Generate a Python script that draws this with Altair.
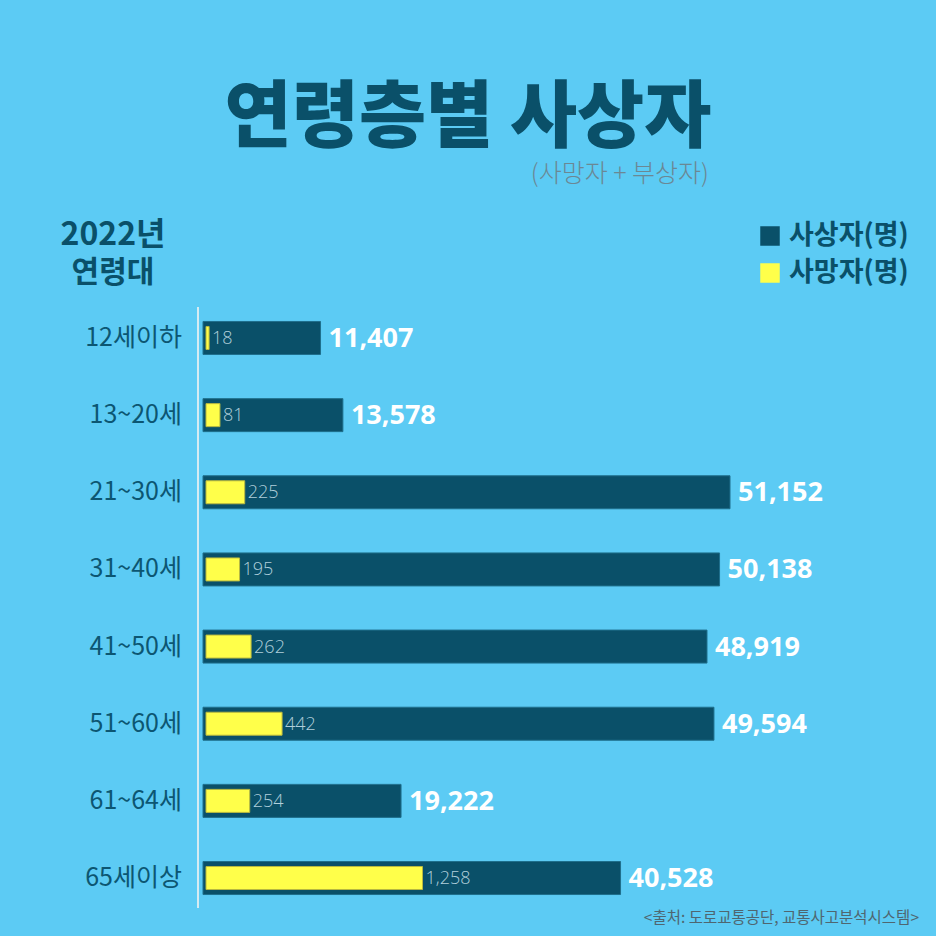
import altair as alt
import pandas as pd

categories = ["12세이하", "13~20세", "21~30세", "31~40세", "41~50세", "51~60세", "61~64세", "65세이상"]
casualties = [11407, 13578, 51152, 50138, 48919, 49594, 19222, 40528]
deaths = [18, 81, 225, 195, 262, 442, 254, 1258]

df = pd.DataFrame({"cat": categories, "cas": casualties, "death": deaths})

BG = "#5CCBF4"
DARK = "#0A5069"
YEL = "#FFFF4A"
KR = "Noto Sans CJK KR"
NUM = "Open Sans"

# page background colour (the page margin around the chart)
try:
    import altair.utils.mimebundle as _mb
    _orig_html = _mb.spec_to_html

    def _bg_html(*a, **k):
        s = _orig_html(*a, **k)
        return s.replace("<head>", "<head><style>html,body{background:%s;}</style>" % BG, 1)

    _mb.spec_to_html = _bg_html
except Exception:
    pass

y_enc = alt.Y("cat:N", sort=categories, axis=None,
              scale=alt.Scale(domain=categories, range=[291.4, 908.6], paddingInner=0, paddingOuter=0))
x_dark = alt.X("cas:Q", axis=None, scale=alt.Scale(domain=[0, 51152], range=[195, 722], zero=True, nice=False))
x_yel = alt.X("death:Q", axis=None, scale=alt.Scale(domain=[0, 1258], range=[198, 414.5], zero=True, nice=False))

base = alt.Chart(df)

dark_bars = base.mark_bar(size=33, color=DARK, stroke="#1F6F8C", strokeWidth=1).encode(
    x=x_dark, x2=alt.value(195), y=y_enc)
dark_labels = base.mark_text(align="left", baseline="middle", dx=8, dy=1, color="white",
                             font=NUM, fontWeight="bold", fontSize=27).encode(
    x=x_dark, y=y_enc, text=alt.Text("cas:Q", format=","))

yel_bars = base.mark_bar(size=23, color=YEL, stroke="#B8B840", strokeWidth=1).encode(
    x=x_yel, x2=alt.value(198), y=y_enc)
yel_labels = base.mark_text(align="left", baseline="middle", dx=3, dy=1, color="#B0CFDB",
                            font=NUM, fontWeight=300, fontSize=18).encode(
    x=x_yel, y=y_enc, text=alt.Text("death:Q", format=","))

cat_labels = base.mark_text(align="right", baseline="middle", color="#0C5672",
                            font=KR, fontSize=25).encode(
    x=alt.value(174), y=y_enc, text="cat:N")

one = alt.Data(values=[{}])

def txt(text, x, y, size, color, weight="normal", align="center", font=KR):
    return alt.Chart(one).mark_text(text=text, align=align, baseline="middle", fontSize=size,
                                    color=color, fontWeight=weight, font=font).encode(
        x=alt.value(x), y=alt.value(y))

vline = alt.Chart(one).mark_rule(color="#D6EBF2", strokeWidth=2).encode(
    x=alt.value(190), y=alt.value(299), y2=alt.value(900))

title = txt("연령층별 사상자", 460, 111, 73, DARK, weight=900)
subtitle = txt("(사망자 + 부상자)", 701, 166, 25, "#6B8894", weight=300, align="right")
yr1 = txt("2022년", 105, 227, 32, DARK, weight="bold")
yr2 = txt("연령대", 105, 265, 30, DARK, weight="bold")

leg_sq1 = alt.Chart(one).mark_square(size=380, color=DARK, opacity=1).encode(
    x=alt.value(762), y=alt.value(228))
leg_sq2 = alt.Chart(one).mark_square(size=380, color=YEL, opacity=1).encode(
    x=alt.value(762), y=alt.value(265))
leg_t1 = txt("사상자(명)", 781, 228, 27, DARK, weight="bold", align="left")
leg_t2 = txt("사망자(명)", 781, 265, 27, DARK, weight="bold", align="left")

source = txt("<출처: 도로교통공단, 교통사고분석시스템>", 911, 910, 15.5, "#4F6670", align="right")

chart = alt.layer(
    vline, dark_bars, yel_bars, dark_labels, yel_labels, cat_labels,
    title, subtitle, yr1, yr2, leg_sq1, leg_sq2, leg_t1, leg_t2, source
).resolve_scale(x="independent").properties(
    width=920, height=920, autosize=alt.AutoSizeParams(type="none"), padding=0,
    background=BG
).configure_view(stroke=None)

chart.save("out.html", embed_options={"renderer": "svg", "actions": False})
